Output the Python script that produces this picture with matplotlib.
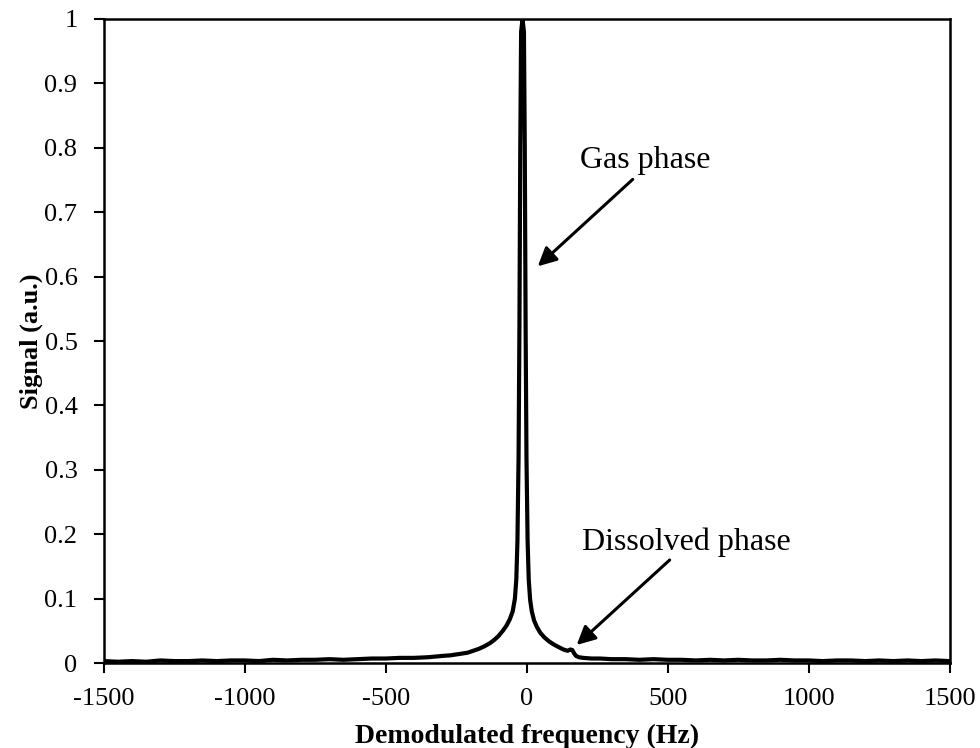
import matplotlib
matplotlib.use("Agg")
import matplotlib.pyplot as plt
import numpy as np

# spectrum (Hz, a.u.)
freq = [-1500, -1450, -1400, -1350, -1300, -1250, -1200, -1150, -1100, -1050,
        -1000, -950, -900, -850, -800, -750, -700, -650, -600, -550,
        -500, -450, -400, -350, -300, -270, -240, -210, -190, -170,
        -150, -130, -115, -100, -85, -72, -60, -50, -42, -37,
        -33, -29, -26, -23, -20, -15, -10, -7, -4, -1,
        3, 7, 12, 18, 26, 36, 48, 62, 78, 95,
        112, 130, 145, 155, 162, 168, 175, 185, 200, 230,
        260, 300, 350, 400, 450, 500, 550, 600, 650, 700,
        750, 800, 850, 900, 950, 1000, 1050, 1100, 1150, 1200,
        1250, 1300, 1350, 1400, 1450, 1500]
signal = [0.003, 0.002, 0.003, 0.002, 0.004, 0.003, 0.003, 0.004, 0.003, 0.004,
          0.004, 0.003, 0.005, 0.004, 0.005, 0.005, 0.006, 0.005, 0.006, 0.007,
          0.007, 0.008, 0.008, 0.009, 0.011, 0.012, 0.014, 0.016, 0.019, 0.022,
          0.026, 0.031, 0.036, 0.042, 0.050, 0.058, 0.068, 0.080, 0.100, 0.130,
          0.190, 0.320, 0.520, 0.800, 0.980, 1.000, 0.980, 0.800, 0.520, 0.320,
          0.190, 0.130, 0.098, 0.080, 0.066, 0.056, 0.047, 0.040, 0.034, 0.029,
          0.025, 0.021, 0.019, 0.021, 0.020, 0.015, 0.011, 0.009, 0.008, 0.007,
          0.007, 0.006, 0.006, 0.005, 0.006, 0.005, 0.005, 0.004, 0.005, 0.004,
          0.005, 0.004, 0.004, 0.005, 0.004, 0.004, 0.003, 0.004, 0.004, 0.003,
          0.004, 0.003, 0.004, 0.003, 0.004, 0.003]

xticks = [-1500, -1000, -500, 0, 500, 1000, 1500]
yticks = [0, 0.1, 0.2, 0.3, 0.4, 0.5, 0.6, 0.7, 0.8, 0.9, 1]
ylabels = ["0", "0.1", "0.2", "0.3", "0.4", "0.5", "0.6", "0.7", "0.8", "0.9", "1"]

plt.rcParams['font.family'] = ['Liberation Serif', 'DejaVu Serif']

fig = plt.figure(figsize=(9.8, 7.48), dpi=100)
ax = fig.add_axes([0.106, 0.1136, 0.863, 0.861])

ax.plot(freq, signal, color='black', lw=3.0, solid_joinstyle='round')

ax.set_xlim(-1500, 1500)
ax.set_ylim(0, 1)
ax.set_xticks(xticks)
ax.set_xticklabels([str(t) for t in xticks])
ax.set_yticks(yticks)
ax.set_yticklabels(ylabels)
ax.tick_params(axis='both', direction='out', length=7, width=1.5, labelsize=19)
ax.tick_params(axis='x', pad=11)
ax.tick_params(axis='y', pad=12)
for s in ax.spines.values():
    s.set_linewidth(1.8)

ax.set_xlabel("Demodulated frequency (Hz)", fontsize=20, fontweight='bold',
              labelpad=10)
ax.set_ylabel("Signal (a.u.)", fontsize=19, fontweight='bold', labelpad=1)

# annotations
ax.text(422, 0.781, "Gas phase", fontsize=23, ha='center', va='center')
ax.annotate("", xy=(39, 0.616), xytext=(376, 0.751),
            arrowprops=dict(arrowstyle='-|>', color='black', lw=2.2,
                            mutation_scale=28, shrinkA=0, shrinkB=0))
ax.text(567, 0.188, "Dissolved phase", fontsize=23, ha='center', va='center')
ax.annotate("", xy=(177, 0.028), xytext=(507, 0.160),
            arrowprops=dict(arrowstyle='-|>', color='black', lw=2.2,
                            mutation_scale=28, shrinkA=0, shrinkB=0))

fig.savefig("out.png", dpi=100)
